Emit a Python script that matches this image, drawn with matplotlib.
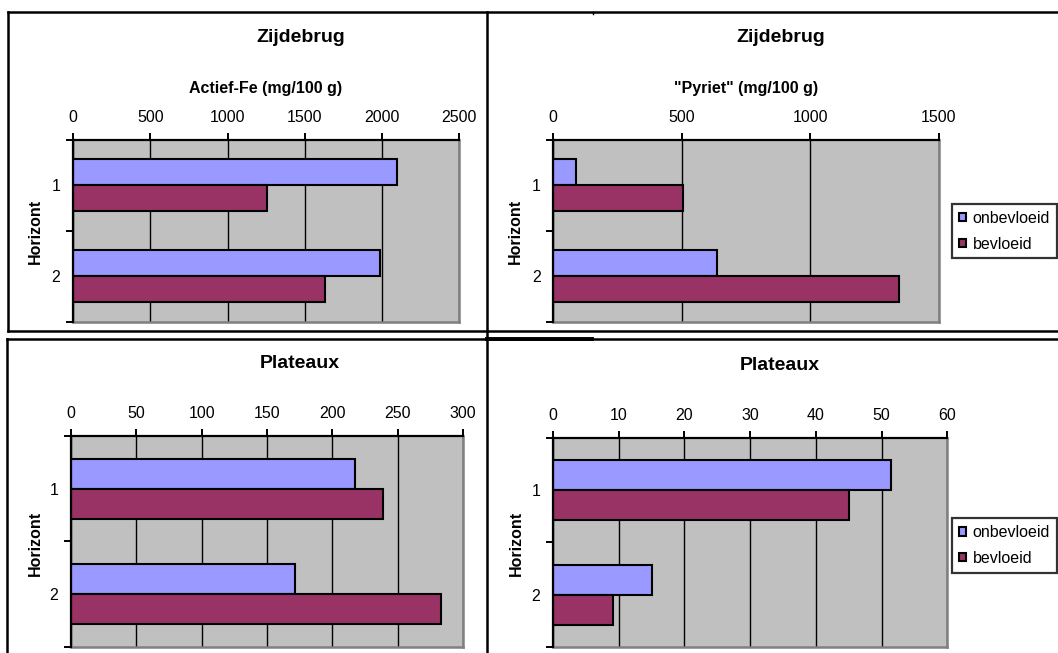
import matplotlib
matplotlib.use("Agg")
import matplotlib.pyplot as plt
from matplotlib.lines import Line2D
import numpy as np

plt.rcParams['font.family'] = ['Liberation Sans', 'DejaVu Sans']

# ---- data ----
categories = ['1', '2']
series_names = ['onbevloeid', 'bevloeid']
series_colors = ['#9999FF', '#993366']

fe_zijdebrug_onbevloeid = [2095, 1990]
fe_zijdebrug_bevloeid = [1255, 1630]
pyriet_zijdebrug_onbevloeid = [87, 637]
pyriet_zijdebrug_bevloeid = [505, 1345]
fe_plateaux_onbevloeid = [217, 171]
fe_plateaux_bevloeid = [239, 283]
pyriet_plateaux_onbevloeid = [51.4, 15]
pyriet_plateaux_bevloeid = [45, 9.1]

ticks_fe_zijdebrug = [0, 500, 1000, 1500, 2000, 2500]
ticks_pyriet_zijdebrug = [0, 500, 1000, 1500]
ticks_fe_plateaux = [0, 50, 100, 150, 200, 250, 300]
ticks_pyriet_plateaux = [0, 10, 20, 30, 40, 50, 60]

titles = ['Zijdebrug', 'Zijdebrug', 'Plateaux', 'Plateaux']
xlabels = ['Actief-Fe (mg/100 g)', '"Pyriet" (mg/100 g)', None, None]
ylabel = 'Horizont'

W, H = 1058, 653
fig = plt.figure(figsize=(W / 100, H / 100), dpi=100)
fig.patch.set_facecolor('white')


def px_axes(x0, y0, x1, y1):
    return fig.add_axes([x0 / W, 1 - y1 / H, (x1 - x0) / W, (y1 - y0) / H])


def ftext(x, y, s, **kw):
    fig.text(x / W, 1 - y / H, s, **kw)


# overlay for frame lines
ov = fig.add_axes([0, 0, 1, 1], zorder=0)
ov.set_xlim(0, W)
ov.set_ylim(H, 0)
ov.axis('off')
lw_frame = 1.8
ov.add_line(Line2D([8, W], [12, 12], color='black', lw=lw_frame))
ov.add_line(Line2D([8.3, 8.3], [12, 331.3], color='black', lw=lw_frame))
ov.add_line(Line2D([8, W], [331.3, 331.3], color='black', lw=lw_frame))
ov.add_line(Line2D([6.7, W], [338.6, 338.6], color='black', lw=lw_frame))
ov.add_line(Line2D([6.7, 6.7], [338.6, H], color='black', lw=lw_frame))
ov.add_line(Line2D([486.7, 486.7], [12, H], color='black', lw=lw_frame))
ov.add_line(Line2D([487, 591.7], [339.2, 339.2], color='black', lw=2.8))
ov.add_line(Line2D([592.7, 592.7], [12, 14], color='black', lw=1.0))

panels = [
    dict(rect=(73, 140, 459.3, 321.7), data=(fe_zijdebrug_onbevloeid, fe_zijdebrug_bevloeid),
         ticks=ticks_fe_zijdebrug, title_xy=(301, 38), xlabel_xy=(266, 89), ylabel_xy=(35.5, 231.7),
         legend=False),
    dict(rect=(553.3, 140, 939, 321.7), data=(pyriet_zijdebrug_onbevloeid, pyriet_zijdebrug_bevloeid),
         ticks=ticks_pyriet_zijdebrug, title_xy=(781, 38), xlabel_xy=(746, 89), ylabel_xy=(515, 231.7),
         legend=(952, 204)),
    dict(rect=(71, 436, 463.2, 646.7), data=(fe_plateaux_onbevloeid, fe_plateaux_bevloeid),
         ticks=ticks_fe_plateaux, title_xy=(300, 363), xlabel_xy=None, ylabel_xy=(35.5, 543),
         legend=False),
    dict(rect=(553, 437.7, 947.4, 647), data=(pyriet_plateaux_onbevloeid, pyriet_plateaux_bevloeid),
         ticks=ticks_pyriet_plateaux, title_xy=(780, 365), xlabel_xy=None, ylabel_xy=(516, 543),
         legend=(952, 518.3)),
]

bar_h = 1 / 3.5
centers = np.arange(len(categories)) + 0.5
FS = 11.5

for i, p in enumerate(panels):
    ax = px_axes(*p['rect'])
    ax.set_zorder(2)
    ax.set_facecolor('#C0C0C0')
    handles = []
    for j, (vals, col, name) in enumerate(zip(p['data'], series_colors, series_names)):
        offs = (j - 0.5) * bar_h
        b = ax.barh(centers + offs, vals, height=bar_h, color=col, edgecolor='black',
                    linewidth=1.5, label=name, zorder=3)
        handles.append(b)
    ax.set_xlim(p['ticks'][0], p['ticks'][-1])
    ax.set_ylim(len(categories), 0)
    ax.xaxis.tick_top()
    ax.set_xticks(p['ticks'])
    ax.set_xticklabels([str(t) for t in p['ticks']], fontsize=FS)
    ax.tick_params(axis='x', direction='out', length=4.8, width=1.4, pad=6, colors='black')
    ax.set_yticks(np.arange(len(categories) + 1))
    ax.set_yticklabels([])
    ax.set_yticks(centers, minor=True)
    ax.set_yticklabels(categories, minor=True, fontsize=FS)
    ax.tick_params(axis='y', which='major', direction='out', length=4.8, width=1.4)
    ax.tick_params(axis='y', which='minor', length=0, pad=9)
    ax.grid(axis='x', color='black', lw=1.0, zorder=1)
    ax.set_axisbelow(True)
    for s in ['top', 'left']:
        ax.spines[s].set_color('black')
        ax.spines[s].set_linewidth(1.6)
        ax.spines[s].set_zorder(4)
    for s in ['right', 'bottom']:
        ax.spines[s].set_color('#808080')
        ax.spines[s].set_linewidth(1.8)

    ftext(*p['title_xy'], titles[i], fontsize=14, fontweight='bold', ha='center', va='center')
    if p['xlabel_xy'] is not None:
        ftext(*p['xlabel_xy'], xlabels[i], fontsize=FS, fontweight='bold', ha='center', va='center')
    ftext(*p['ylabel_xy'], ylabel, fontsize=FS, fontweight='bold', ha='center', va='center',
          rotation=90)

    if p['legend']:
        lx, ly = p['legend']
        leg = ax.legend(handles=handles, labels=series_names, loc='upper left',
                        bbox_to_anchor=(lx / W, 1 - ly / H), bbox_transform=fig.transFigure,
                        fontsize=FS, frameon=True, fancybox=False, shadow=False,
                        handlelength=0.45, handleheight=0.45, handletextpad=0.42,
                        labelspacing=0.68, borderpad=0.42, borderaxespad=0)
        leg.get_frame().set_edgecolor('black')
        leg.get_frame().set_linewidth(1.6)

fig.savefig('out.png', dpi=100, facecolor='white')
